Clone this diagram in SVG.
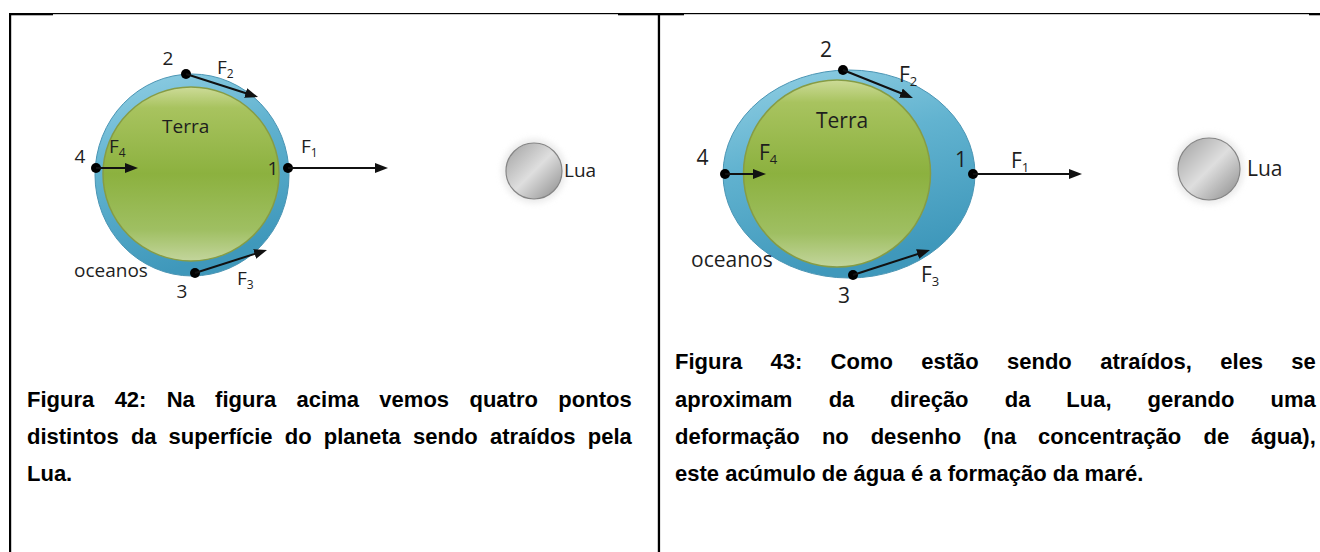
<svg xmlns="http://www.w3.org/2000/svg" width="1320" height="552" viewBox="0 0 1320 552">
  <defs>
    <style>
      .lbl { font-family: "Open Sans", "Liberation Sans", sans-serif; font-size: 19px; fill: #1e1e1e; }
      .lbl-r { font-size: 21px; }
      .sub { font-size: 12px; }
      .sub-r { font-size: 13px; }
      .cap { font-family: "Liberation Sans", Arial, sans-serif; font-weight: bold; font-size: 22px; fill: #000; }
      .rule { fill: #000; }
      .ocean { fill: url(#oceanGrad); stroke: #4a95b4; stroke-width: 1; }
      .land { fill: url(#landGrad); stroke: #869c45; stroke-width: 1.5; }
      .moon { fill: url(#moonGrad); stroke: #858585; stroke-width: 1.2; }
      .halo { fill: #d8d8d8; opacity: 0.55; filter: url(#moonHalo); }
      .pt { fill: #000; }
      .force { stroke: #111; stroke-width: 2; fill: none; marker-end: url(#arrowHead); }
    </style>
    <linearGradient id="oceanGrad" x1="0" y1="0" x2="0.3" y2="1">
      <stop offset="0" stop-color="#93d0e4"/>
      <stop offset="0.45" stop-color="#62b3d0"/>
      <stop offset="1" stop-color="#3f98bb"/>
    </linearGradient>
    <linearGradient id="landGrad" x1="0" y1="0" x2="0" y2="1">
      <stop offset="0" stop-color="#cddb98"/>
      <stop offset="0.12" stop-color="#a8c35f"/>
      <stop offset="0.5" stop-color="#8cb13f"/>
      <stop offset="0.82" stop-color="#9fbf62"/>
      <stop offset="1" stop-color="#c3d59c"/>
    </linearGradient>
    <linearGradient id="moonGrad" x1="0" y1="0" x2="1" y2="1">
      <stop offset="0" stop-color="#a0a0a0"/>
      <stop offset="0.5" stop-color="#dedede"/>
      <stop offset="1" stop-color="#8a8a8a"/>
    </linearGradient>
    <filter id="moonHalo" x="-30%" y="-30%" width="160%" height="160%">
      <feGaussianBlur stdDeviation="3"/>
    </filter>
    <marker id="arrowHead" markerUnits="userSpaceOnUse" markerWidth="13" markerHeight="10" refX="7" refY="5" orient="auto">
      <path d="M0,0 L13,5 L0,10 Z" fill="#111"/>
    </marker>
  </defs>

  <rect width="1320" height="552" fill="#fff"/>

  <!-- table rules -->
  <g id="table">
    <rect class="rule" x="9" y="13" width="1311" height="1.2"/>
    <rect class="rule" x="9" y="13" width="44" height="2.3"/>
    <rect class="rule" x="618" y="13" width="66" height="2.3"/>
    <rect class="rule" x="1309" y="13" width="11" height="2.3"/>
    <rect class="rule" x="9" y="13" width="2.2" height="539"/>
    <rect class="rule" x="657.8" y="13" width="2.3" height="539"/>
  </g>

  <!-- left panel: Earth with a uniform ocean layer -->
  <g id="earth-left">
    <ellipse class="ocean" cx="192" cy="175" rx="97" ry="101"/>
    <ellipse class="land" cx="191" cy="174" rx="88" ry="87"/>
    <text class="lbl" x="162" y="133">Terra</text>
    <text class="lbl" x="74" y="277">oceanos</text>
  </g>

  <g id="point-left-1">
    <circle class="pt" cx="288" cy="168" r="5"/>
    <text class="lbl" x="273" y="175" text-anchor="middle">1</text>
    <text class="lbl" x="301" y="153">F<tspan class="sub" dy="4">1</tspan></text>
  </g>
  <g id="point-left-2">
    <circle class="pt" cx="186" cy="74" r="5"/>
    <text class="lbl" x="168" y="65" text-anchor="middle">2</text>
    <text class="lbl" x="217" y="74">F<tspan class="sub" dy="4">2</tspan></text>
  </g>
  <g id="point-left-3">
    <circle class="pt" cx="195" cy="273" r="5"/>
    <text class="lbl" x="182" y="298" text-anchor="middle">3</text>
    <text class="lbl" x="237" y="285">F<tspan class="sub" dy="4">3</tspan></text>
  </g>
  <g id="point-left-4">
    <circle class="pt" cx="96" cy="168" r="5"/>
    <text class="lbl" x="80" y="163" text-anchor="middle">4</text>
    <text class="lbl" x="109" y="153">F<tspan class="sub" dy="4">4</tspan></text>
  </g>

  <g id="moon-left">
    <circle class="halo" cx="534" cy="171" r="32"/>
    <circle class="moon" cx="534" cy="171" r="28"/>
    <text class="lbl" x="564" y="177">Lua</text>
  </g>

  <!-- right panel: Earth with the ocean pulled towards the Moon -->
  <g id="earth-right">
    <ellipse class="ocean" cx="849" cy="174" rx="126" ry="104"/>
    <circle class="land" cx="837" cy="173.5" r="93.5"/>
    <text class="lbl lbl-r" x="816" y="128">Terra</text>
    <text class="lbl lbl-r" x="691" y="267">oceanos</text>
  </g>

  <g id="point-right-1">
    <circle class="pt" cx="973" cy="174" r="5"/>
    <text class="lbl lbl-r" x="961" y="167" text-anchor="middle">1</text>
    <text class="lbl lbl-r" x="1011" y="168">F<tspan class="sub-r" dy="4">1</tspan></text>
  </g>
  <g id="point-right-2">
    <circle class="pt" cx="843" cy="70" r="5"/>
    <text class="lbl lbl-r" x="826" y="57" text-anchor="middle">2</text>
    <text class="lbl lbl-r" x="899" y="82">F<tspan class="sub-r" dy="4">2</tspan></text>
  </g>
  <g id="point-right-3">
    <circle class="pt" cx="853" cy="275" r="5"/>
    <text class="lbl lbl-r" x="844" y="303" text-anchor="middle">3</text>
    <text class="lbl lbl-r" x="921" y="282">F<tspan class="sub-r" dy="4">3</tspan></text>
  </g>
  <g id="point-right-4">
    <circle class="pt" cx="725" cy="174" r="5"/>
    <text class="lbl lbl-r" x="702.5" y="165" text-anchor="middle">4</text>
    <text class="lbl lbl-r" x="759" y="160">F<tspan class="sub-r" dy="4">4</tspan></text>
  </g>

  <g id="moon-right">
    <circle class="halo" cx="1209" cy="169" r="35"/>
    <circle class="moon" cx="1209" cy="169" r="31"/>
    <text class="lbl lbl-r" x="1247" y="176">Lua</text>
  </g>

  <!-- force vectors -->
  <g id="connectors">
    <line class="force" x1="288" y1="168" x2="382" y2="168"/>
    <line class="force" x1="186" y1="74" x2="252.3" y2="95.2"/>
    <line class="force" x1="195" y1="273" x2="261.3" y2="251.8"/>
    <line class="force" x1="96" y1="168" x2="132" y2="168"/>
    <line class="force" x1="973" y1="174" x2="1076" y2="174"/>
    <line class="force" x1="843" y1="70" x2="907.4" y2="95.8"/>
    <line class="force" x1="853" y1="275" x2="924.3" y2="251.9"/>
    <line class="force" x1="725" y1="174" x2="760" y2="174"/>
  </g>

  <!-- captions (justified) -->
  <g id="caption-left">
    <text class="cap" transform="translate(27 406.5)"><tspan x="0">Figura</tspan> <tspan x="87.64">42:</tspan> <tspan x="139.71">Na</tspan> <tspan x="188.09">figura</tspan> <tspan x="269.6">acima</tspan> <tspan x="352.36">vemos</tspan> <tspan x="442.47">quatro</tspan> <tspan x="531.33">pontos</tspan></text>
    <text class="cap" transform="translate(27 444)"><tspan x="0">distintos</tspan> <tspan x="103.93">da</tspan> <tspan x="141.62">superfície</tspan> <tspan x="257.87">do</tspan> <tspan x="296.78">planeta</tspan> <tspan x="386.01">sendo</tspan> <tspan x="462.97">atraídos</tspan> <tspan x="560.8">pela</tspan></text>
    <text class="cap" transform="translate(27 481)">Lua.</text>
  </g>
  <g id="caption-right">
    <text class="cap" transform="translate(675 369)"><tspan x="0">Figura</tspan> <tspan x="95.58">43:</tspan> <tspan x="155.59">Como</tspan> <tspan x="246.25">estão</tspan> <tspan x="332.03">sendo</tspan> <tspan x="425.16">atraídos,</tspan> <tspan x="545.29">eles</tspan> <tspan x="616.36">se</tspan></text>
    <text class="cap" transform="translate(675 406.5)"><tspan x="0">aproximam</tspan> <tspan x="153.67">da</tspan> <tspan x="215.31">direção</tspan> <tspan x="329.72">da</tspan> <tspan x="391.36">Lua,</tspan> <tspan x="472.62">gerando</tspan> <tspan x="595.6">uma</tspan></text>
    <text class="cap" transform="translate(675 444)"><tspan x="0">deformação</tspan> <tspan x="146.91">no</tspan> <tspan x="195.67">desenho</tspan> <tspan x="308.23">(na</tspan> <tspan x="363.11">concentração</tspan> <tspan x="528.47">de</tspan> <tspan x="576">água),</tspan></text>
    <text class="cap" transform="translate(675 481)">este acúmulo de água é a formação da maré.</text>
  </g>
</svg>
